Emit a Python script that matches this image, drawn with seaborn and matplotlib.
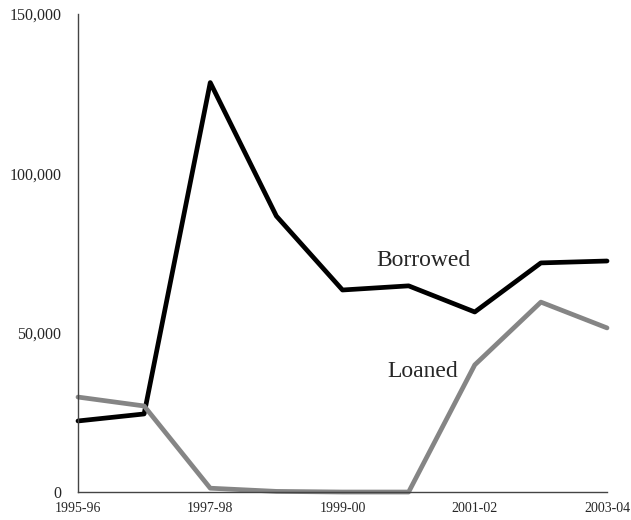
import matplotlib
matplotlib.use("Agg")
import matplotlib.pyplot as plt
import pandas as pd
import seaborn as sns

years = ["1995-96", "1996-97", "1997-98", "1998-99", "1999-00",
         "2000-01", "2001-02", "2002-03", "2003-04"]
borrowed = [22300, 24500, 128500, 86600, 63400, 64700, 56500, 71900, 72500]
loaned = [29800, 27000, 1200, 200, 0, 0, 39900, 59600, 51500]

df = pd.DataFrame({"year": years * 2,
                   "value": borrowed + loaned,
                   "series": ["Borrowed"] * len(years) + ["Loaned"] * len(years)})
df["pos"] = list(range(len(years))) * 2

sns.set_style("white")
plt.rcParams["font.family"] = ["Liberation Serif", "DejaVu Serif"]

fig = plt.figure(figsize=(6.31, 5.2), dpi=100)
ax = fig.add_axes([0.1236, 0.0538, 0.8384, 0.9192])

sns.lineplot(data=df, x="pos", y="value", hue="series",
             palette={"Borrowed": "#000000", "Loaned": "#858585"},
             linewidth=3.4, legend=False, ax=ax, clip_on=False)

ax.set_xlim(0, len(years) - 1)
ax.set_ylim(0, 150000)
ax.set_xticks(range(0, len(years), 2))
ax.set_xticklabels(years[::2], fontsize=10)
ax.set_yticks([0, 50000, 100000, 150000])
ax.set_yticklabels(["0", "50,000", "100,000", "150,000"], fontsize=11.5)
ax.tick_params(axis="y", length=0, pad=12)
ax.tick_params(axis="x", length=0, pad=7)
ax.set_xlabel("")
ax.set_ylabel("")

for side in ["top", "right"]:
    ax.spines[side].set_visible(False)
for side in ["left", "bottom"]:
    ax.spines[side].set_color("#444444")
    ax.spines[side].set_linewidth(1)

ax.text(5.22, 72800, "Borrowed", fontsize=17, ha="center", va="center")
ax.text(5.22, 37700, "Loaned", fontsize=17, ha="center", va="center")

fig.savefig("out.png", dpi=100)
